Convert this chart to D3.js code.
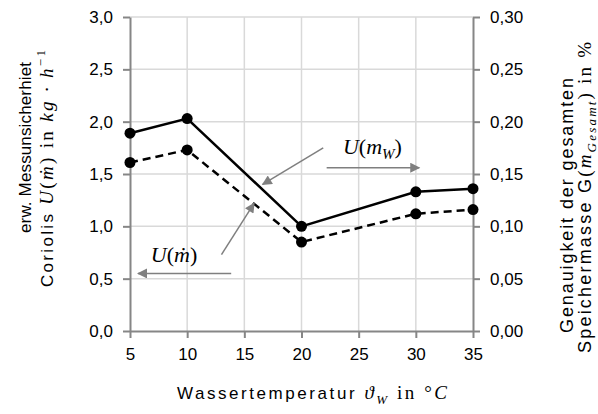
<!DOCTYPE html>
<html>
<head>
<meta charset="utf-8">
<script src="https://cdn.jsdelivr.net/npm/d3@7"></script>
<style>
body { margin: 0; background: #fff; }
text { font-family: "Liberation Sans", Arial, sans-serif; fill: #000; }
.math { font-family: "Liberation Serif", "Times New Roman", serif; }
</style>
</head>
<body>
<div id="viz"></div>
<script>
// chart data
var temps = [5, 10, 20, 30, 35];
var uMassW = [1.89, 2.03, 1.00, 1.33, 1.36];     // U(m_W), solid
var uMassFlow = [1.61, 1.73, 0.85, 1.12, 1.16];  // U(m dot), dashed

var xTicks = [5, 10, 15, 20, 25, 30, 35];
var yTicksLeft = [0, 0.5, 1.0, 1.5, 2.0, 2.5, 3.0];
var yTicksRight = [0, 0.05, 0.10, 0.15, 0.20, 0.25, 0.30];

// annotation arrows in data units: x1, y1, x2, y2 (head at x2,y2)
var arrows = [
  [21.9, 1.75, 16.6, 1.40],
  [22.2, 1.56, 30.3, 1.56],
  [13.0, 0.73, 15.85, 1.22],
  [13.85, 0.55, 5.7, 0.55]
];

var W = 598, H = 414;
var mLeft = 130, mRight = 473, mTop = 17, mBottom = 331;

var de = d3.formatLocale({decimal: ",", thousands: ".", grouping: [3], currency: ["", " €"]});
var fmt1 = de.format(".1f"), fmt2 = de.format(".2f");

var svg = d3.select('#viz').append('svg')
  .attr('width', W)
  .attr('height', H);

var x = d3.scaleLinear().domain([5, 35]).range([mLeft, mRight]);
var y = d3.scaleLinear().domain([0, 3]).range([mBottom, mTop]);
var y2 = d3.scaleLinear().domain([0, 0.3]).range([mBottom, mTop]);

// grid
svg.append('g').selectAll('line')
  .data(xTicks.slice(1, -1))
  .enter().append('line')
  .attr('x1', d => x(d)).attr('x2', d => x(d))
  .attr('y1', mTop).attr('y2', mBottom)
  .attr('stroke', '#d9d9d9').attr('stroke-width', 1.5);

svg.append('g').selectAll('line')
  .data(yTicksLeft.slice(1))
  .enter().append('line')
  .attr('y1', d => y(d)).attr('y2', d => y(d))
  .attr('x1', mLeft).attr('x2', mRight)
  .attr('stroke', '#d9d9d9').attr('stroke-width', 1.5);

// axes
function styleAxis(g) {
  g.selectAll('path, line').attr('stroke', '#868686').attr('stroke-width', 2);
  g.selectAll('text').attr('font-size', 17).attr('font-family', '"Liberation Sans", Arial, sans-serif').attr('fill', '#000');
}

svg.append('g')
  .attr('transform', 'translate(' + mLeft + ',0)')
  .call(d3.axisLeft(y).tickValues(yTicksLeft).tickFormat(fmt1).tickSize(7).tickSizeOuter(0).tickPadding(10))
  .call(styleAxis);

svg.append('g')
  .attr('transform', 'translate(' + mRight + ',0)')
  .call(d3.axisRight(y2).tickValues(yTicksRight).tickFormat(fmt2).tickSize(7).tickSizeOuter(0).tickPadding(10))
  .call(styleAxis);

svg.append('g')
  .attr('transform', 'translate(0,' + mBottom + ')')
  .call(d3.axisBottom(x).tickValues(xTicks).tickSize(7).tickSizeOuter(0).tickPadding(10))
  .call(styleAxis);

// series
var line = d3.line()
  .x(function (d, i) { return x(temps[i]); })
  .y(function (d) { return y(d); });

svg.append('path').datum(uMassW)
  .attr('d', line).attr('fill', 'none')
  .attr('stroke', '#000').attr('stroke-width', 2.5);

svg.append('path').datum(uMassFlow)
  .attr('d', line).attr('fill', 'none')
  .attr('stroke', '#000').attr('stroke-width', 2.5)
  .attr('stroke-dasharray', '8,5');

[uMassW, uMassFlow].forEach(function (s) {
  svg.append('g').selectAll('circle')
    .data(s).enter().append('circle')
    .attr('cx', function (d, i) { return x(temps[i]); })
    .attr('cy', function (d) { return y(d); })
    .attr('r', 5.5)
    .attr('fill', '#000');
});

// arrows
svg.append('defs').append('marker')
  .attr('id', 'head')
  .attr('viewBox', '0 0 10 10')
  .attr('refX', 9).attr('refY', 5)
  .attr('markerWidth', 14).attr('markerHeight', 10)
  .attr('markerUnits', 'userSpaceOnUse')
  .attr('orient', 'auto')
  .append('path').attr('d', 'M0,0L10,5L0,10z').attr('fill', '#7f7f7f');

svg.append('g').selectAll('line')
  .data(arrows).enter().append('line')
  .attr('x1', d => x(d[0])).attr('y1', d => y(d[1]))
  .attr('x2', d => x(d[2])).attr('y2', d => y(d[3]))
  .attr('stroke', '#7f7f7f').attr('stroke-width', 1.5)
  .attr('marker-end', 'url(#head)');

// rich text helper: parts = [text, class, size, dy, italic]
function rich(sel, parts) {
  parts.forEach(function (p) {
    var t = sel.append('tspan').text(p[0]);
    if (p[1]) t.attr('class', p[1]);
    if (p[2]) t.attr('font-size', p[2]);
    if (p[3]) t.attr('dy', p[3]);
    if (p[4]) t.attr('font-style', 'italic');
  });
  return sel;
}

// labels on the arrows
rich(svg.append('text')
  .attr('x', x(26.2)).attr('y', y(1.69))
  .attr('text-anchor', 'middle'), [
  ['U', 'math', 22, 0, true], ['(', 'math', 22, 0, false], ['m', 'math', 22, 0, true],
  ['W', 'math', 15, 5, true], [')', 'math', 22, -5, false]
]);

rich(svg.append('text')
  .attr('x', x(8.85)).attr('y', y(0.656))
  .attr('text-anchor', 'middle'), [
  ['U', 'math', 22, 0, true], ['(', 'math', 22, 0, false],
  ['ṁ', 'math', 22, 0, true], [')', 'math', 22, 0, false]
]);

// x title
var xt = svg.append('text')
  .attr('x', 177).attr('y', 399)
  .attr('textLength', 270).attr('lengthAdjust', 'spacing');
rich(xt, [
  ['Wassertemperatur ', null, 17, 0, false],
  ['ϑ', 'math', 19, 0, true], ['W', 'math', 13, 5, true],
  [' in °', 'math', 19, -5, false], ['C', 'math', 19, 0, true]
]);

// left title
svg.append('text')
  .attr('transform', 'translate(31,233) rotate(-90)')
  .attr('font-size', 17)
  .attr('textLength', 171).attr('lengthAdjust', 'spacing')
  .text('erw. Messunsicherhiet');

var lt2 = svg.append('text')
  .attr('transform', 'translate(53,287) rotate(-90)')
  .attr('textLength', 237).attr('lengthAdjust', 'spacing');
rich(lt2, [
  ['Coriolis  ', null, 17, 0, false],
  ['U', 'math', 19, 0, true], ['(', 'math', 19, 0, false], ['ṁ', 'math', 19, 0, true],
  [')', 'math', 19, 0, false], [' in ', 'math', 19, 0, false],
  ['kg · h', 'math', 19, 0, true], ['−1', 'math', 13, -8, false]
]);

// right title
svg.append('text')
  .attr('transform', 'translate(573,333) rotate(-90)')
  .attr('font-size', 18)
  .attr('textLength', 255).attr('lengthAdjust', 'spacing')
  .text('Genauigkeit  der gesamten');

var rt2 = svg.append('text')
  .attr('transform', 'translate(591,353) rotate(-90)')
  .attr('textLength', 311).attr('lengthAdjust', 'spacing');
rich(rt2, [
  ['Speichermasse  G', null, 18, 0, false], ['(', 'math', 19, 0, false],
  ['m', 'math', 19, 0, true], ['Gesamt', 'math', 13, 5, true],
  [')', 'math', 19, -5, false], [' in %', 'math', 19, 0, false]
]);
</script>
</body>
</html>
